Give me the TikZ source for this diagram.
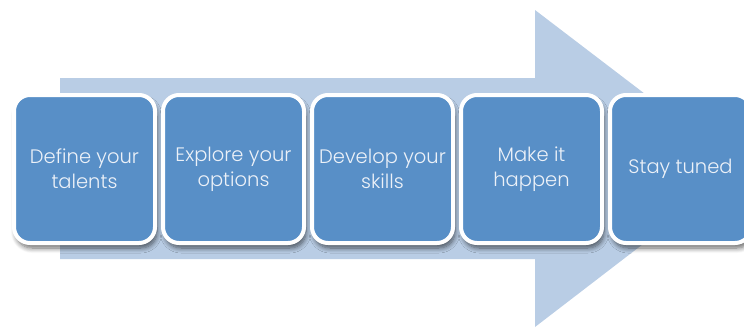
\documentclass[tikz,border=0pt]{standalone}
\usepackage{fontspec}
\setmainfont{Poppins}[UprightFont=* Light]
\usetikzlibrary{shadows.blur}
\definecolor{boxblue}{RGB}{88,143,199}
\definecolor{arrowblue}{RGB}{185,205,229}
\definecolor{txt}{RGB}{236,241,248}
\begin{document}
\begin{tikzpicture}[x=1pt,y=-1pt,
  stepbox/.style={rectangle, rounded corners=16pt, fill=boxblue, draw=white, line width=4pt,
    minimum width=141pt, minimum height=148pt, inner sep=0pt, align=center,
    text=txt, font=\fontsize{19.5}{25}\selectfont,
    blur shadow={shadow xshift=2pt, shadow yshift=-5pt, shadow blur steps=8, shadow opacity=60, shadow blur radius=5pt}}]
\useasboundingbox (0,0) rectangle (744,327);
\fill[arrowblue] (60,78) -- (535,78) -- (535,10) -- (742,168) -- (535,327) -- (535,259) -- (60,259) -- cycle;
\node[stepbox] (b1) at (84.5,169) {Define your\\talents};
\node[stepbox] (b2) at (233.5,169) {Explore your\\options};
\node[stepbox] (b3) at (382.5,169) {Develop your\\skills};
\node[stepbox] (b4) at (531.5,169) {Make it\\happen};
\node[stepbox] (b5) at (680.5,169) {Stay tuned};
\end{tikzpicture}
\end{document}
